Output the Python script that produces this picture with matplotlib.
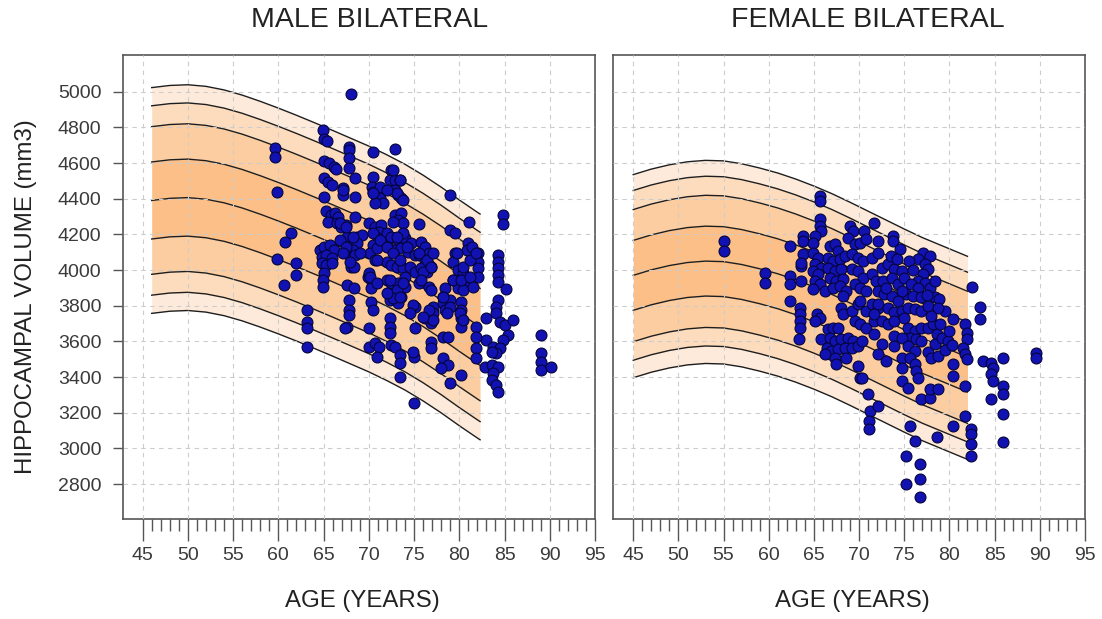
import matplotlib
matplotlib.use("Agg")
import matplotlib.pyplot as plt
from matplotlib.ticker import FixedLocator
import numpy as np

plt.rcParams['font.family'] = ['Liberation Sans', 'DejaVu Sans']

# centile curves: median by age plus fixed offsets (2.5, 5, 10, 25, 50, 75, 90, 95, 97.5)
male_curve_age = [46, 48, 50, 52, 54, 56, 58, 60, 62, 64, 66, 68, 70, 72, 74, 76, 78, 80, 82, 82.3]
male_curve_med = [4390, 4402, 4406, 4397, 4377, 4348, 4313, 4275, 4235, 4193,
                  4150, 4106, 4062, 4013, 3960, 3899, 3832, 3760, 3691, 3681]
male_curve_off = [-633, -531, -414, -216, 0, 216, 414, 531, 633]

fem_curve_age = [45, 47, 49, 51, 53, 55, 57, 59, 61, 63, 65, 67, 69, 71, 73, 75, 77, 79, 81, 82]
fem_curve_med = [3970, 4001, 4025, 4042, 4050, 4047, 4031, 4007, 3979, 3945,
                 3906, 3863, 3815, 3765, 3715, 3665, 3617, 3575, 3533, 3512]
fem_curve_off = [-574, -476, -372, -196, 0, 196, 369, 476, 565]

# subjects (age, bilateral hippocampal volume)
male_pts = [
    (68.0, 4985), (64.9, 4785), (65.1, 4733), (65.4, 4724), (59.6, 4683), (59.6, 4632),
    (59.9, 4439), (61.4, 4209), (60.7, 4159), (59.9, 4060), (62.0, 4041), (62.0, 3972),
    (60.6, 3916), (63.2, 3776), (63.2, 3707), (63.2, 3673), (63.2, 3570),
    (65.1, 4611), (65.6, 4598), (66.1, 4576), (66.4, 4565), (65.1, 4518), (65.5, 4495),
    (65.9, 4477), (65.1, 4408), (65.3, 4333), (65.8, 4309), (66.3, 4318), (66.6, 4299),
    (65.5, 4271), (66.5, 4262), (66.9, 4243), (67.5, 4253), (64.6, 4112), (65.1, 4131),
    (65.7, 4141), (66.1, 4112), (64.8, 4075), (65.3, 4084), (65.9, 4066), (64.8, 4038),
    (65.3, 4028), (65.9, 4038), (65.1, 3982), (64.9, 3944), (64.9, 3907),
    (67.8, 4692), (67.8, 4673), (67.8, 4627), (67.8, 4571), (68.5, 4514), (67.2, 4458),
    (67.2, 4421), (68.5, 4408), (68.5, 4299), (67.6, 4187), (68.2, 4168), (68.7, 4187),
    (69.3, 4196), (67.6, 4131), (68.2, 4140), (68.7, 4150), (67.6, 4094), (68.2, 4112),
    (68.5, 4084), (68.0, 4019), (68.4, 4019), (67.6, 3916), (68.4, 3898), (67.8, 3832),
    (67.8, 3776), (67.8, 3748), (67.6, 3683), (67.4, 3673),
    (70.5, 4664), (70.5, 4523), (70.3, 4467), (70.5, 4439), (70.9, 4421), (71.2, 4402),
    (71.6, 4374), (70.7, 4374), (70.0, 4262), (70.7, 4243), (71.4, 4253), (71.1, 4215),
    (71.0, 4178), (71.4, 4150), (72.0, 4168), (70.5, 4140), (70.1, 4094), (70.9, 4122),
    (70.7, 4056), (69.9, 3963), (70.4, 3935), (70.2, 3898), (70.0, 3982), (70.2, 3823),
    (70.5, 3776), (70.0, 3673), (70.0, 3570), (70.7, 3589), (71.1, 3570), (70.9, 3514),
    (72.9, 4677), (72.5, 4560), (72.3, 4505), (72.9, 4505), (73.4, 4505), (72.9, 4449),
    (73.2, 4421), (73.6, 4402), (72.9, 4309), (73.6, 4318), (73.2, 4281), (73.8, 4262),
    (72.7, 4271), (72.0, 4206), (72.5, 4187), (73.2, 4168), (74.0, 4178), (74.7, 4150),
    (72.1, 4131), (72.9, 4112), (73.6, 4122), (74.3, 4103), (75.1, 4084), (72.0, 4047),
    (72.5, 4028), (73.1, 4019), (73.8, 4010), (74.5, 4019), (75.1, 3991), (72.0, 3944),
    (72.5, 3926), (73.2, 3926), (74.0, 3907), (72.1, 3870), (72.9, 3860), (73.6, 3851),
    (72.3, 3832), (73.2, 3813), (75.1, 3794), (72.3, 3730), (72.3, 3683), (72.3, 3645),
    (72.5, 3580), (72.9, 3570), (73.4, 3524), (73.4, 3477), (73.4, 3402), (75.0, 3514),
    (75.1, 3673), (75.0, 3253),
    (79.0, 4421), (81.1, 4271), (84.8, 4309), (84.8, 4258), (79.0, 4225), (79.5, 4209),
    (81.0, 4150), (80.8, 4112), (81.4, 4131), (82.1, 4094), (82.1, 4047), (82.1, 4010),
    (82.1, 3963), (84.3, 4084), (84.3, 4047), (84.3, 4010), (84.3, 3972), (84.3, 3935),
    (85.2, 3893), (84.3, 3832), (84.1, 3794), (84.1, 3757), (84.5, 3711), (85.0, 3692),
    (85.9, 3720), (85.4, 3636), (84.8, 3608), (82.9, 3730), (82.9, 3608), (83.7, 3570),
    (84.5, 3561), (84.1, 3533), (83.6, 3542), (82.8, 3458), (83.6, 3467), (84.3, 3458),
    (83.7, 3421), (83.6, 3383), (84.1, 3355), (84.3, 3318), (81.8, 3683), (81.8, 3626),
    (81.8, 3561), (81.8, 3505), (89.0, 3636), (89.0, 3533), (89.0, 3486), (89.0, 3440),
    (90.1, 3458), (73.8, 4206),
    (75.6, 4258), (75.8, 4159), (76.2, 4131), (76.7, 4094), (75.6, 4084), (76.2, 4056),
    (76.7, 4028), (75.8, 4010), (76.4, 3991), (76.9, 4019), (74.0, 3963), (75.6, 3926),
    (76.7, 3907), (76.9, 3888), (79.5, 4094), (79.3, 4047), (79.9, 4000), (80.4, 3982),
    (79.3, 3944), (80.1, 3944), (80.8, 3935), (79.9, 3898), (80.4, 3888), (78.4, 3898),
    (78.2, 3851), (78.2, 3813), (78.4, 3776), (79.0, 3832), (80.2, 3823), (80.2, 3776),
    (80.2, 3730), (80.2, 3683), (77.1, 3794), (77.1, 3757), (76.9, 3701), (76.2, 3730),
    (74.9, 3804), (78.2, 3626), (78.8, 3626), (76.9, 3598), (76.9, 3561), (74.9, 3542),
    (78.2, 3505), (78.8, 3467), (78.0, 3449), (80.2, 3411), (79.0, 3365),
    (66.8, 4168), (67.5, 4131), (68.3, 4187), (69.0, 4094), (67.9, 4047), (67.2, 4094),
    (70.5, 4206), (71.2, 4168), (72.0, 4131), (72.7, 4094), (73.4, 4056), (70.9, 4056),
    (73.1, 4187), (74.2, 4131), (70.1, 3963), (70.9, 3926), (72.3, 3944), (73.1, 3888),
    (73.8, 3926), (72.7, 3841), (72.0, 3869), (73.4, 3851), (75.6, 4094), (76.4, 4056),
    (77.1, 4094), (76.0, 3991), (76.9, 4019), (75.8, 3944), (79.7, 4094), (80.4, 4019),
    (81.2, 4056), (81.9, 4094), (79.3, 3944), (80.2, 3944), (81.2, 3963), (81.5, 3907),
    (78.2, 3851), (79.0, 3795), (80.1, 3757), (78.6, 3757), (80.4, 3720), (76.7, 3776),
    (77.1, 3720), (76.0, 3739), (74.5, 3757), (71.2, 4467), (70.5, 4430), (72.7, 4561),
    (73.4, 4505), (73.1, 4430), (73.8, 4393), (72.0, 4449), (67.2, 4449), (66.8, 4262),
    (67.5, 4243),
]

female_pts = [
    (55.0, 4163), (55.0, 4107), (59.6, 3985), (59.6, 3929), (62.3, 4135), (62.3, 3967),
    (62.3, 3920), (63.6, 3939), (63.6, 4023), (62.3, 3827), (63.8, 4191), (63.8, 4163),
    (63.8, 4088), (63.6, 4041), (63.5, 3789), (63.5, 3752), (63.5, 3715), (63.5, 3677),
    (63.4, 3612),
    (65.7, 4415), (65.7, 4387), (65.7, 4284), (65.7, 4247), (65.8, 4219), (65.1, 4191),
    (64.9, 4153), (64.9, 4097), (65.5, 4069), (65.1, 4032), (65.8, 4013), (64.9, 3995),
    (65.5, 3976), (65.1, 3939), (65.7, 3920), (66.2, 3883), (64.9, 3892), (65.3, 3752),
    (65.7, 3733), (65.1, 3715),
    (66.8, 4135), (67.3, 4144), (67.7, 4107), (66.6, 4069), (67.1, 4051), (67.9, 4060),
    (68.4, 4079), (66.6, 4013), (67.3, 3995), (68.0, 4004), (66.8, 3957), (67.5, 3939),
    (68.2, 3948), (67.1, 3901), (67.9, 3911), (68.6, 3883),
    (69.0, 4247), (69.3, 4219), (68.8, 4181), (69.5, 4144), (70.1, 4153), (70.6, 4219),
    (70.8, 4172), (71.7, 4265), (72.1, 4163), (69.2, 4088), (69.9, 4069), (70.4, 4051),
    (71.4, 4069), (72.1, 4097), (69.2, 4004), (69.9, 3995), (70.4, 3957), (71.4, 3976),
    (71.9, 3939), (69.5, 3920), (70.1, 3901), (70.8, 3883),
    (68.2, 3855), (68.0, 3789), (68.2, 3752), (69.2, 3771), (69.9, 3808), (70.1, 3827),
    (70.8, 3771), (71.4, 3808), (72.1, 3789), (69.5, 3715), (70.1, 3696), (70.8, 3677),
    (71.6, 3715),
    (65.8, 3612), (66.6, 3668), (67.1, 3677), (67.7, 3677), (66.8, 3621), (67.3, 3603),
    (68.0, 3612), (68.8, 3621), (69.3, 3603), (66.4, 3565), (66.9, 3547), (67.7, 3556),
    (68.4, 3565), (69.2, 3565), (69.9, 3575), (70.3, 3603), (66.2, 3528), (67.3, 3509),
    (68.6, 3509), (67.5, 3472), (69.9, 3463), (70.1, 3397), (70.3, 3397),
    (71.0, 3304), (71.2, 3211), (71.1, 3155), (71.1, 3108), (72.1, 3239),
    (73.8, 4191), (73.8, 4163), (74.5, 4116), (77.1, 4098), (77.8, 4079), (76.5, 4060),
    (77.3, 4032), (77.6, 4004), (77.1, 3976), (76.5, 3939), (77.3, 3930), (77.8, 3901),
    (78.4, 3939), (72.5, 4014), (73.2, 4032), (73.9, 4004), (74.7, 3995), (72.7, 3939),
    (73.6, 3957), (74.3, 3920), (75.0, 3957), (75.8, 3920), (76.5, 3901), (75.2, 3864),
    (76.0, 3855), (72.1, 3883), (72.8, 3864), (73.6, 3855), (74.3, 3827), (72.1, 3808),
    (73.2, 3789), (73.9, 3762), (74.7, 3771), (75.4, 3789), (76.2, 3780), (76.9, 3771),
    (77.6, 3799), (78.4, 3846), (78.9, 3836), (79.5, 3771), (78.7, 3789), (71.7, 3752),
    (72.5, 3715), (73.2, 3696), (73.9, 3715), (75.0, 3733), (75.4, 3677), (76.2, 3659),
    (76.9, 3677), (77.6, 3677), (78.2, 3696), (78.6, 3640), (75.6, 3621), (76.3, 3612),
    (76.9, 3603), (73.9, 3631), (74.7, 3621), (71.7, 3640), (72.5, 3584), (73.9, 3575),
    (75.4, 3575), (76.2, 3547), (77.6, 3538), (78.4, 3584), (78.0, 3509), (78.7, 3519),
    (73.0, 3491), (74.7, 3509), (75.6, 3509), (76.2, 3472), (76.3, 3435), (76.5, 3397),
    (72.1, 3528), (74.7, 3453), (74.7, 3379), (75.4, 3341), (76.9, 3276), (77.8, 3285),
    (77.8, 3332), (78.7, 3332),
    (80.4, 3724), (80.4, 3472), (80.4, 3407), (81.7, 3696), (81.9, 3649), (81.9, 3612),
    (81.5, 3565), (81.7, 3528), (81.9, 3500), (81.7, 3351), (81.7, 3183), (80.4, 3127),
    (82.4, 3108), (82.4, 3080), (82.4, 3024), (82.4, 2959), (75.6, 3127), (76.2, 3043),
    (78.6, 3061), (75.2, 2959), (76.7, 2912), (76.7, 2828), (75.2, 2800), (76.7, 2725),
    (82.5, 3905), (83.4, 3790), (83.4, 3724), (83.7, 3491), (84.6, 3481), (84.8, 3453),
    (84.6, 3416), (84.8, 3379), (85.9, 3509), (85.9, 3351), (85.9, 3304), (84.6, 3276),
    (85.9, 3192), (85.9, 3033), (89.6, 3537), (89.6, 3509),
    (73.5, 4080), (74.2, 4060), (75.5, 4050), (76.0, 4000), (74.8, 3880), (73.0, 3900),
    (76.8, 3850), (77.5, 3860), (79.0, 3700), (79.2, 3620), (79.8, 3600), (78.0, 3740),
    (80.0, 3660), (79.5, 3550), (80.3, 3580),
]

band_colors = ['#fdeada', '#fddcbd', '#fccda0', '#fbbf87']
grey = '#555555'
txt = '#222222'


def draw_panel(ax, ages, med, offs, pts, ylabels):
    ages = np.array(ages)
    med = np.array(med)
    curves = [med + o for o in offs]
    n = len(curves) - 1
    for i in range(n):
        c = band_colors[min(i, n - 1 - i)]
        ax.fill_between(ages, curves[i], curves[i + 1], color=c, lw=0, zorder=1)
    for cv in curves:
        ax.plot(ages, cv, color='#1e1e1e', lw=1.0, zorder=2)

    px, py = zip(*pts)
    ax.scatter(px, py, s=62, c='#1212b2', edgecolors='#05053a', linewidths=0.8, zorder=4)

    ax.set_xlim(42.79, 95)
    ax.set_ylim(2604, 5206)
    ax.set_xticks(np.arange(45, 96, 5))
    ax.xaxis.set_minor_locator(FixedLocator([a for a in range(46, 95) if a % 5]))
    ax.set_yticks(np.arange(2800, 5001, 200))
    ax.set_axisbelow(False)
    ax.grid(True, color='#cccccc', ls=(0, (4, 4)), lw=0.8)
    ax.tick_params(axis='x', which='major', length=16, width=1.0, color=grey,
                   labelsize=14, labelcolor='#3a3a3a', pad=4)
    ax.tick_params(axis='x', which='minor', length=8.5, width=1.0, color=grey)
    if ylabels:
        ax.tick_params(axis='y', length=7.2, width=1.0, color=grey,
                       labelsize=14, labelcolor='#3a3a3a', pad=8)
    else:
        ax.tick_params(axis='y', length=0, labelleft=False)
    for s in ax.spines.values():
        s.set_color(grey)
        s.set_linewidth(1.2)


fig = plt.figure(figsize=(11.02, 6.19), dpi=100)
ax1 = fig.add_axes([0.1113, 0.1616, 0.4286, 0.7496])
ax2 = fig.add_axes([0.5565, 0.1616, 0.4280, 0.7496])

draw_panel(ax1, male_curve_age, male_curve_med, male_curve_off, male_pts, True)
draw_panel(ax2, fem_curve_age, fem_curve_med, fem_curve_off, female_pts, False)

fig.text(370 / 1102, 1 - 20 / 619, 'MALE BILATERAL', ha='center', va='center',
         fontsize=20.5, color=txt)
fig.text(868 / 1102, 1 - 20 / 619, 'FEMALE BILATERAL', ha='center', va='center',
         fontsize=20.5, color=txt)
fig.text(362 / 1102, 1 - 601 / 619, 'AGE (YEARS)', ha='center', va='center',
         fontsize=17.3, color=txt)
fig.text(852 / 1102, 1 - 601 / 619, 'AGE (YEARS)', ha='center', va='center',
         fontsize=17.3, color=txt)
fig.text(26 / 1102, 1 - 297 / 619, 'HIPPOCAMPAL VOLUME (mm3)', ha='center', va='center',
         rotation=90, fontsize=17.3, color=txt)

fig.savefig('out.png', dpi=100, facecolor='white')
